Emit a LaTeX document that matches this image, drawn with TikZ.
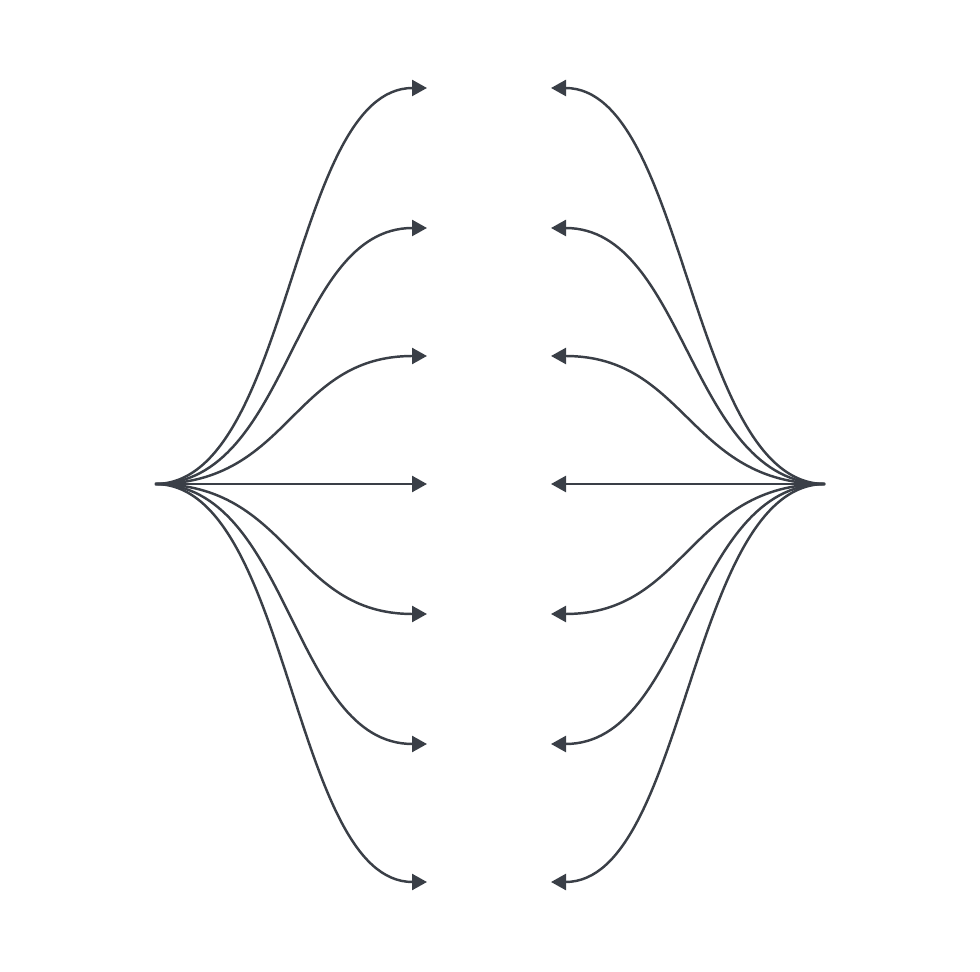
\documentclass[tikz,border=0pt]{standalone}
\usepackage{tikz}
\usetikzlibrary{arrows.meta}
\definecolor{inkgrey}{HTML}{3A3F47}
\tikzset{fan/.style={draw=inkgrey,line width=1.4pt,-{Triangle[length=0.3cm,width=0.32cm]}}}

\begin{document}
\begin{tikzpicture}[x=0.02cm,y=-0.02cm]
\useasboundingbox (0,0) rectangle (980,972);
\coordinate (src) at (155,484);
\coordinate (snk) at (825,484);
\foreach \i/\y in {1/88,2/228,3/356,4/484,5/614,6/744,7/882}{
  \coordinate (l\i) at (427,\y);
  \coordinate (r\i) at (551,\y);
}
\foreach \i in {1,...,7}{
  \draw[fan] (src) .. controls +(136,0) and +(-136,0) .. (l\i);
  \draw[fan] (snk) .. controls +(-136,0) and +(136,0) .. (r\i);
}
\end{tikzpicture}
\end{document}
